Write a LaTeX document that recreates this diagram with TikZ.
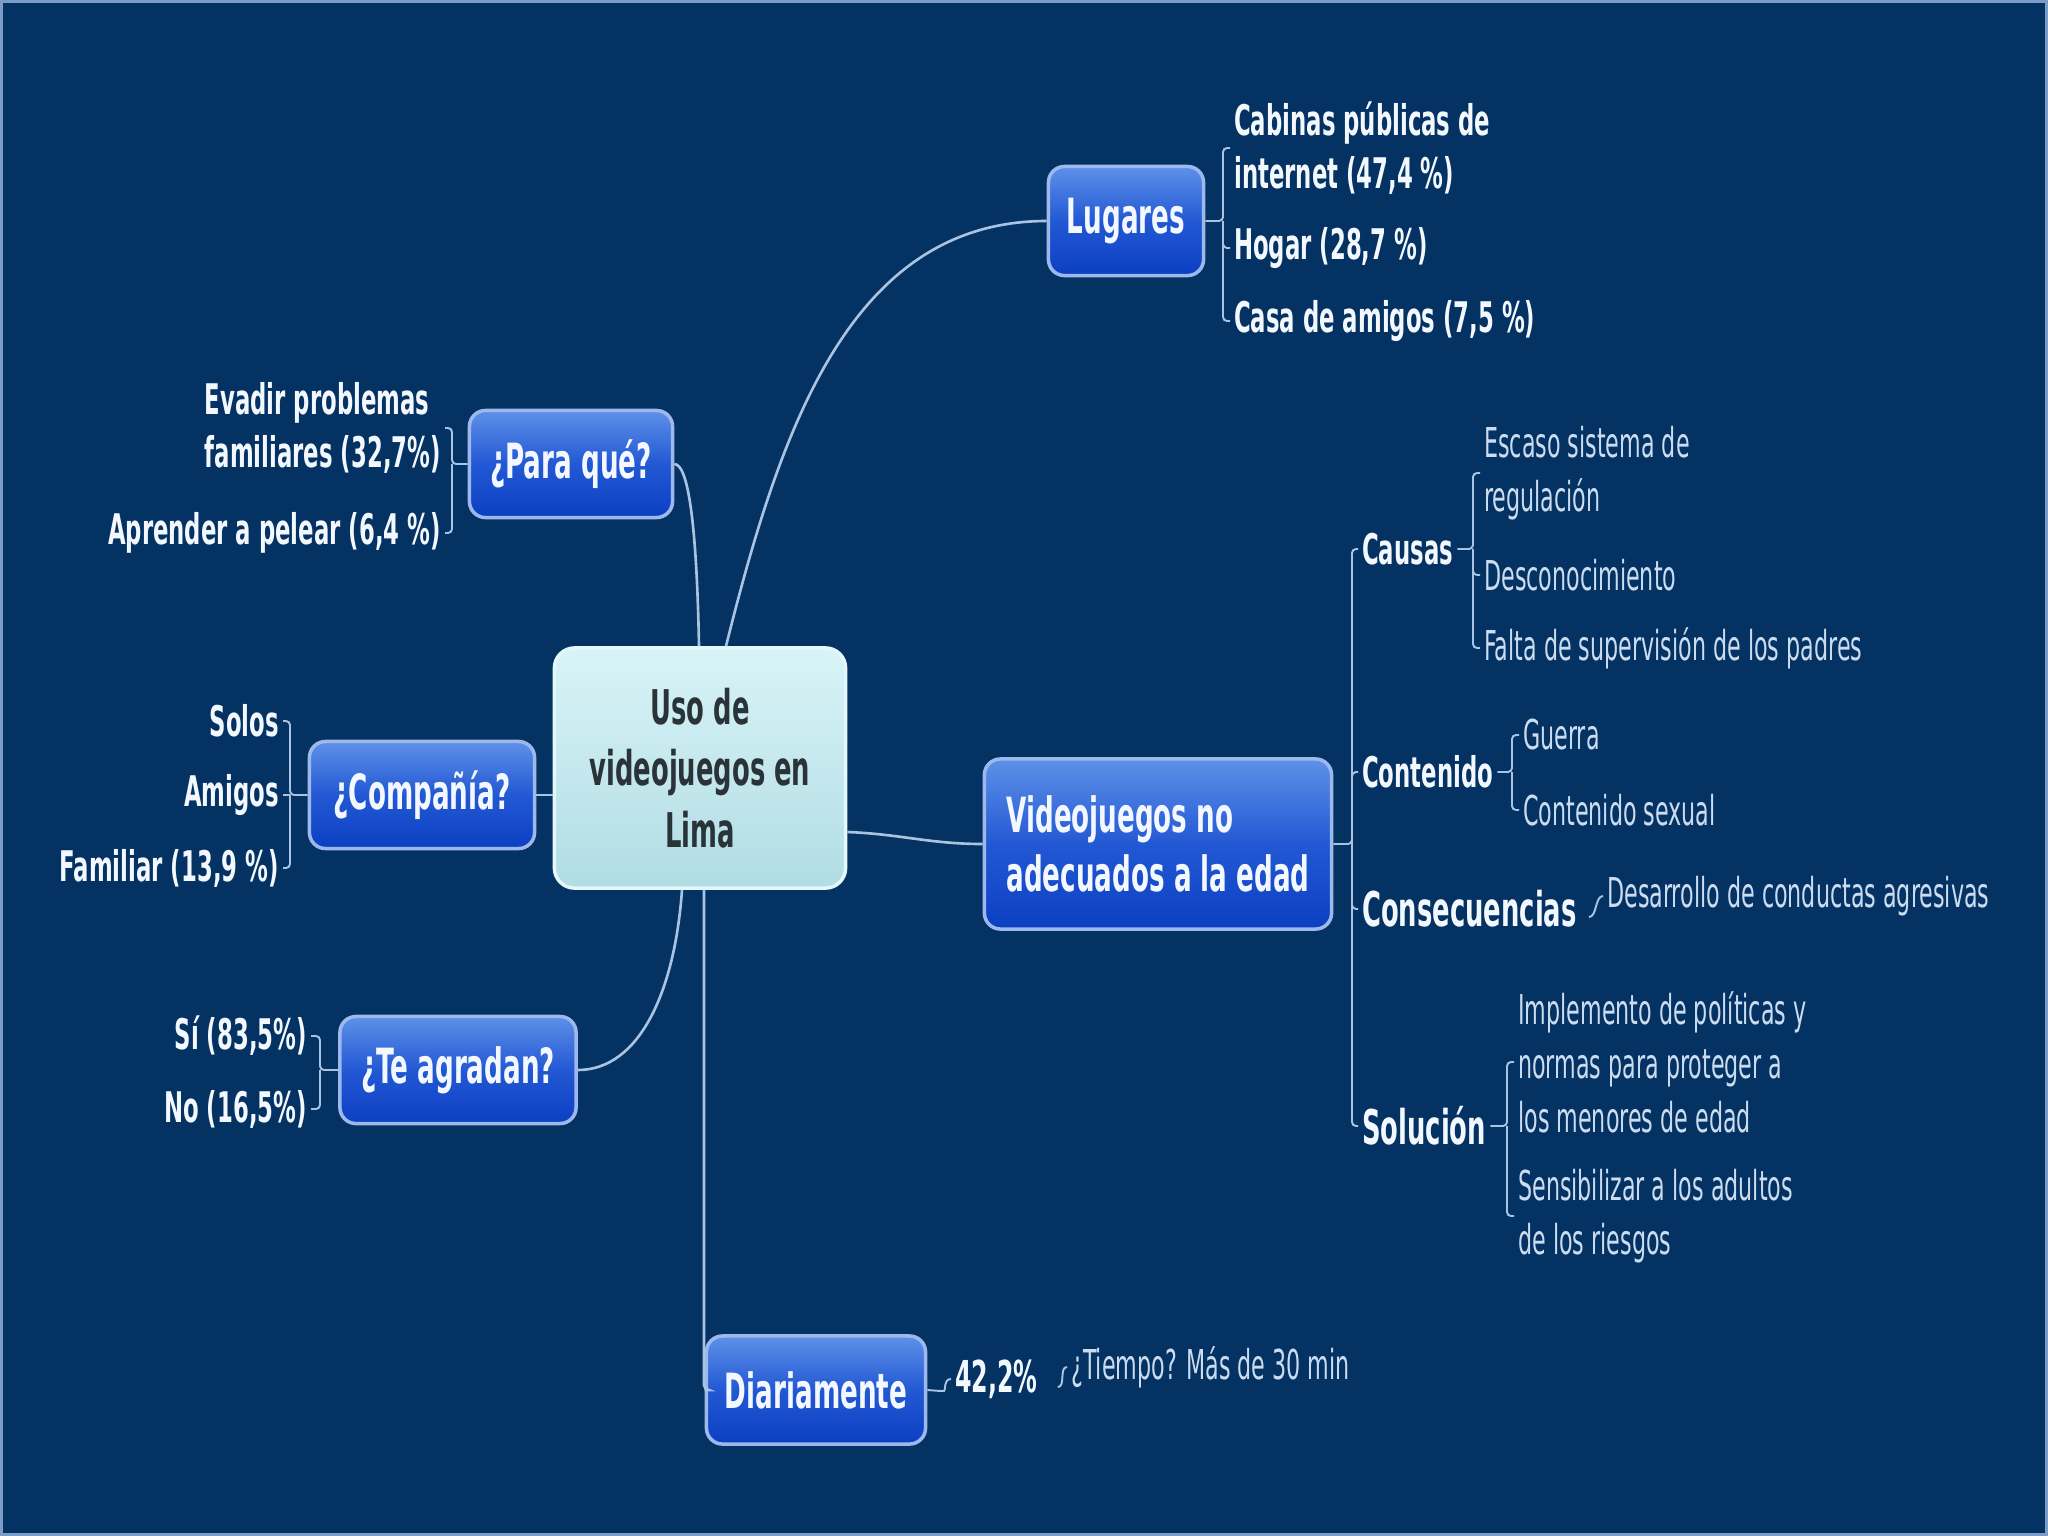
\documentclass[tikz,border=0pt]{standalone}
\usepackage{fontspec}
\setmainfont{DejaVu Sans}[FakeStretch=0.54]
\usetikzlibrary{calc}
\definecolor{bg}{HTML}{043262}
\definecolor{framecol}{HTML}{7B9CC6}
\definecolor{conncol}{HTML}{A9C3E3}
\definecolor{boxtop}{HTML}{5E91E8}
\definecolor{boxmid}{HTML}{2358D4}
\definecolor{boxbot}{HTML}{0B3FC2}
\definecolor{boxborder}{HTML}{9DB9EC}
\definecolor{ctrtop}{HTML}{D9F4F7}
\definecolor{ctrbot}{HTML}{B0DCE4}
\definecolor{ctrborder}{HTML}{E4F7FA}
\definecolor{ctrtext}{HTML}{2A3438}
\definecolor{leafw}{HTML}{F3F8FF}
\definecolor{leafr}{HTML}{CBDCF0}
\begin{document}
\begin{tikzpicture}[x=0.01cm,y=-0.01cm,
  mainbox/.style={rounded corners=0.16cm, draw=boxborder, line width=1pt,
    top color=boxtop, bottom color=boxbot, middle color=boxmid, text=leafw,
    font=\fontsize{13.8}{16.8}\selectfont\bfseries, inner sep=0pt, align=center},
  ctrbox/.style={rounded corners=0.2cm, draw=ctrborder, line width=1pt,
    top color=ctrtop, bottom color=ctrbot, text=ctrtext,
    font=\fontsize{13.6}{17.4}\selectfont\bfseries, inner sep=0pt, align=center},
  bleaf/.style={text=leafw, font=\fontsize{12}{15}\selectfont\bfseries, inner sep=1pt, align=left},
  bigleaf/.style={text=leafw, font=\fontsize{13.6}{16}\selectfont\bfseries, inner sep=1pt, align=left},
  rleaf/.style={text=leafr, font=\fontsize{11.7}{15.4}\selectfont, inner sep=1pt, align=left},
  conn/.style={draw=conncol, line width=0.75pt},
  brk/.style={draw=conncol, line width=0.55pt, rounded corners=0.04cm}]
\fill[bg] (0,0) rectangle (2048,1536);
\draw[framecol, line width=0.85pt] (1.5,1.5) rectangle (2046.5,1534.5);
\useasboundingbox (0,0) rectangle (2048,1536);

% main nodes
\node[ctrbox, minimum width=2.91cm, minimum height=2.40cm] (ctr) at (700,768) {Uso de\\videojuegos en\\Lima};
\node[mainbox, minimum width=1.55cm, minimum height=1.09cm] (lug) at (1126,221) {Lugares};
\node[mainbox, minimum width=2.03cm, minimum height=1.07cm] (pq) at (571,464) {¿Para qué?};
\node[mainbox, minimum width=2.25cm, minimum height=1.07cm] (comp) at (422,795) {¿Compañía?};
\node[mainbox, minimum width=2.36cm, minimum height=1.07cm] (ta) at (458,1070) {¿Te agradan?};
\node[mainbox, minimum width=2.19cm, minimum height=1.08cm] (dia) at (816,1390) {Diariamente};
\node[mainbox, minimum width=3.47cm, minimum height=1.70cm, align=left] (vid) at (1158,844) {Videojuegos no\\adecuados a la edad};

% main connectors
\draw[conn] ($(ctr.north)+(26,0)$) .. controls (780,430) and (850,221) .. (lug.west);
\draw[conn] ($(ctr.north)+(-1,0)$) .. controls (697,540) and (690,464) .. (pq.east);
\draw[conn] (comp.east) -- (comp.east -| ctr.west);
\draw[conn] ($(ctr.south)+(-18,0)$) .. controls (675,990) and (640,1070) .. (ta.east);
\draw[conn, rounded corners=0.05cm] ($(ctr.south)+(4,0)$) |- (dia.west);
\draw[conn] ($(ctr.east)+(0,64)$) .. controls (900,834) and (930,844) .. (vid.west);

% Lugares
\node[bleaf, anchor=west] (l1) at (1230,148) {Cabinas públicas de\\internet (47,4 \%)};
\node[bleaf, anchor=west] (l2) at (1230,248) {Hogar (28,7 \%)};
\node[bleaf, anchor=west] (l3) at (1230,321) {Casa de amigos (7,5 \%)};
\draw[brk] (lug.east) -- (1223,221) |- (l1.west);
\draw[brk] (1223,221) |- (l2.west);
\draw[brk] (1223,221) |- (l3.west);

% Para que
\node[bleaf, anchor=east] (p1) at (445,428) {Evadir problemas\\familiares (32,7\%)};
\node[bleaf, anchor=east] (p2) at (445,533) {Aprender a pelear (6,4 \%)};
\draw[brk] (pq.west) -- (452,464) |- (p1.east);
\draw[brk] (452,464) |- (p2.east);

% Compania
\node[bleaf, anchor=east] (c1) at (283,721) {Solos};
\node[bleaf, anchor=east] (c2) at (283,795) {Amigos};
\node[bleaf, anchor=east] (c3) at (283,868) {Familiar (13,9 \%)};
\draw[brk] (comp.west) -- (290,795) |- (c1.east);
\draw[brk] (290,795) -- (c2.east);
\draw[brk] (290,795) |- (c3.east);

% Te agradan
\node[bleaf, anchor=east] (t1) at (311,1036) {Sí (83,5\%)};
\node[bleaf, anchor=east] (t2) at (311,1109) {No (16,5\%)};
\draw[brk] (ta.west) -- (320,1070) |- (t1.east);
\draw[brk] (320,1070) |- (t2.east);

% Diariamente
\node[bleaf, anchor=west, font=\fontsize{12.5}{15}\selectfont\bfseries] (pct) at (951,1379) {42,2\%};
\node[rleaf, anchor=west] (tiempo) at (1067,1367) {¿Tiempo? Más de 30 min};
\draw[brk] (dia.east) -- (940,1391) .. controls (946,1391) and (943,1379) .. (pct.west);
\draw[brk] ($(pct.east)+(16,8)$) .. controls ($(pct.east)+(24,8)$) and ($(tiempo.west)+(-8,0)$) .. (tiempo.west);

% Videojuegos
\node[bleaf, anchor=west] (causas) at (1358,549) {Causas};
\node[bleaf, anchor=west] (cont) at (1358,772) {Contenido};
\node[bigleaf, anchor=west] (cons) at (1358,909) {Consecuencias};
\node[bigleaf, anchor=west] (sol) at (1358,1126) {Solución};
\draw[brk] (vid.east) -- (1352,844) |- (causas.west);
\draw[brk] (1352,844) |- (cont.west);
\draw[brk] (1352,844) |- (cons.west);
\draw[brk] (1352,844) |- (sol.west);

% Causas
\node[rleaf, anchor=west] (e1) at (1480,473) {Escaso sistema de\\regulación};
\node[rleaf, anchor=west] (e2) at (1480,575) {Desconocimiento};
\node[rleaf, anchor=west] (e3) at (1480,648) {Falta de supervisión de los padres};
\draw[brk] (causas.east) -- (1473,549) |- (e1.west);
\draw[brk] (1473,549) |- (e2.west);
\draw[brk] (1473,549) |- (e3.west);

% Contenido
\node[rleaf, anchor=west] (g1) at (1519,735) {Guerra};
\node[rleaf, anchor=west] (g2) at (1519,810) {Contenido sexual};
\draw[brk] (cont.east) -- (1512,772) |- (g1.west);
\draw[brk] (1512,772) |- (g2.west);

% Consecuencias
\node[rleaf, anchor=west] (d1) at (1603,896) {Desarrollo de conductas agresivas};
\draw[brk] ($(cons.east)+(8,8)$) .. controls ($(cons.east)+(16,8)$) and ($(d1.west)+(-8,0)$) .. (d1.west);

% Solucion
\node[rleaf, anchor=west] (s1) at (1514,1062) {Implemento de políticas y\\normas para proteger a\\los menores de edad};
\node[rleaf, anchor=west] (s2) at (1514,1216) {Sensibilizar a los adultos\\de los riesgos};
\draw[brk] (sol.east) -- (1507,1126) |- (s1.west);
\draw[brk] (1507,1126) |- (s2.west);
\end{tikzpicture}
\end{document}
